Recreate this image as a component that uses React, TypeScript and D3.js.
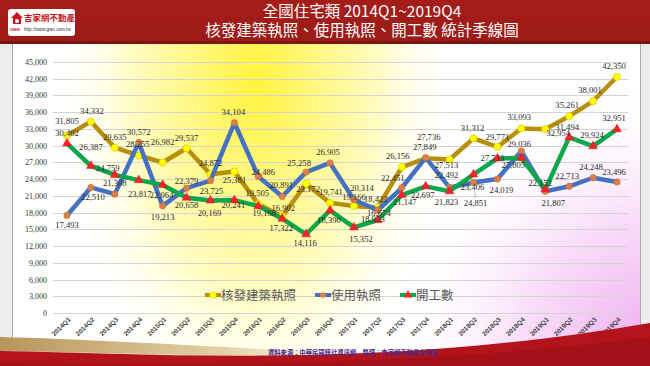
import React from 'react';
import * as d3 from 'd3';

const categories = ['2014Q1','2014Q2','2014Q3','2014Q4','2015Q1','2015Q2','2015Q3','2015Q4','2016Q1','2016Q2','2016Q3','2016Q4','2017Q1','2017Q2','2017Q3','2017Q4','2018Q1','2018Q2','2018Q3','2018Q4','2019Q1','2019Q2','2019Q3','2019Q4'];
const buildingPermits = [31805,34332,29635,28255,26982,29537,24872,25381,19505,17322,23172,19741,19166,18923,26156,27736,27513,31312,29771,33093,32954,35261,38001,42350];
const usePermits = [17493,22510,21308,30572,19213,22379,23725,34104,24486,20891,25258,26905,20314,18422,22451,27849,22492,23406,24019,29036,21807,22713,24248,23496];
const constructionStarts = [30402,26387,24759,23817,22964,20658,20169,20241,19168,16902,14116,18390,15352,16674,21147,22697,21823,24851,27713,27805,22152,31494,29924,32951];
const yTicks = d3.range(0, 45001, 3000);
const seriesNames = ['核發建築執照', '使用執照', '開工數'];

// label placement (dx, dy) per point — presentation only
const goldOff = [[0,-11.5],[1,-7.5],[0,-7.7],[-1,-8.4],[0,-17.8],[0,-7.2],[0,-8.3],[0,11.6],[-1,-8.5],[-1,14.6],[2,8.3],[1,-8.2],[0,-6.3],[-5,14.6],[-4,-8.4],[3,-18.3],[-3,8.5],[-1,-7.3],[0,-7],[-2,-8.4],[13,6.8],[-2,-8.3],[-3,-8],[-3,-8.1]];
const blueOff = [[0,12.6],[2,12.6],[0,-8.1],[0,-7.5],[0,14.2],[0,-4.2],[1,13],[-1,-8.1],[5,-1.7],[-1,-8.5],[-7,-6.1],[-2,-8.2],[8,-8.7],[-2,-7.9],[-9,-6.8],[-1,-8],[-3,-9.5],[-1,7.6],[4,14],[-2,-4],[8,14.6],[-2,-7.3],[-2,-7.7],[-3,-7.2]];
const greenOff = [[0,-7.7],[0,-16.1],[-7,-3.9],[1,16.8],[-1,13.1],[0,10.2],[-1,15.2],[-1,7.9],[6,10.2],[1,-7.4],[-1,11.4],[-1,12.6],[7,14.9],[1,-4],[3,9.7],[-3,11.6],[-3,13.4],[2,31.6],[-5,2.9],[-8,10.1],[-5,-3.4],[-2,-7.3],[-1,-8.1],[-3,-7.9]];

const W = 650, H = 366;
const x = d3.scalePoint<string>().domain(categories).range([67, 617]);
const y = d3.scaleLinear().domain([0, 45000]).range([313, 62]);
const fmt = d3.format(',');

const GOLD = '#b88f0c';
const BLUE = '#4571c4';
const GREEN = '#0ca64b';

const serif = '"Liberation Serif", "DejaVu Serif", serif';
const cjk = '"Noto Sans CJK TC", "Noto Sans CJK SC", sans-serif';

function Series({ data, color, marker }: { data: number[]; color: string; marker: 'circle' | 'dot' | 'tri' }) {
  const line = d3.line<number>().x((_, i) => x(categories[i])!).y(d => y(d));
  const sym = d3.symbol().type(d3.symbolTriangle).size(34);
  return (
    <g>
      <path d={line(data)!} fill="none" stroke={color} strokeWidth={4.5} strokeLinejoin="round" strokeLinecap="round" />
      {data.map((d, i) => {
        const cx = x(categories[i])!, cy = y(d);
        if (marker === 'circle') return <circle key={i} cx={cx} cy={cy} r={3.6} fill="#ffff00" stroke="#d8c400" strokeWidth={0.6} />;
        if (marker === 'dot') return <circle key={i} cx={cx} cy={cy} r={3.2} fill="#d9804a" stroke="#c06a38" strokeWidth={0.5} />;
        return <path key={i} d={sym()!} transform={`translate(${cx},${cy})`} fill="#ff1f2a" stroke="#e0101a" strokeWidth={0.4} />;
      })}
    </g>
  );
}

function Labels({ data, off }: { data: number[]; off: number[][] }) {
  return (
    <g fontFamily={serif} fontSize={8.6} fill="#2a2a2a" textAnchor="middle">
      {data.map((d, i) => (
        <text key={i} x={x(categories[i])! + off[i][0]} y={y(d) + off[i][1]}>{fmt(d)}</text>
      ))}
    </g>
  );
}

export default function App() {
  const legendItems = [
    { name: seriesNames[0], color: GOLD, marker: 'circle', lx: 205, tx: 221 },
    { name: seriesNames[1], color: BLUE, marker: 'dot', lx: 315, tx: 331 },
    { name: seriesNames[2], color: GREEN, marker: 'tri', lx: 400, tx: 416 },
  ];
  const tri = d3.symbol().type(d3.symbolTriangle).size(30)()!;
  return (
    <svg width={W} height={H} style={{ position: 'absolute', left: 0, top: 0, display: 'block' }}>
      <defs>
        <radialGradient id="yel" cx="255" cy="80" r="270" gradientUnits="userSpaceOnUse" gradientTransform="translate(255 80) scale(0.75 1.3) translate(-255 -80)">
          <stop offset="0" stopColor="#fff23c" />
          <stop offset="0.3" stopColor="#fff780" />
          <stop offset="0.62" stopColor="#fffcc4" />
          <stop offset="1" stopColor="#ffffff" stopOpacity="0" />
        </radialGradient>
        <radialGradient id="pink" cx="660" cy="350" r="270" gradientUnits="userSpaceOnUse">
          <stop offset="0" stopColor="#eeaaee" />
          <stop offset="0.5" stopColor="#f7d6f7" stopOpacity="0.85" />
          <stop offset="1" stopColor="#ffffff" stopOpacity="0" />
        </radialGradient>
        <linearGradient id="hdr" x1="0" y1="0" x2="0" y2="1">
          <stop offset="0" stopColor="#a51d19" />
          <stop offset="1" stopColor="#9c1b17" />
        </linearGradient>
        <linearGradient id="goldband" x1="0" y1="0" x2="1" y2="0">
          <stop offset="0" stopColor="#b8955a" />
          <stop offset="0.5" stopColor="#e3cfa4" />
          <stop offset="1" stopColor="#ffffff" stopOpacity="0" />
        </linearGradient>
      </defs>

      {/* page background */}
      <rect x={0} y={0} width={W} height={H} fill="#ececec" />
      <rect x={12} y={44} width={629} height={316} fill="#ffffff" />
      <rect x={12} y={44} width={629} height={316} fill="url(#pink)" />
      <rect x={12} y={44} width={629} height={316} fill="url(#yel)" />
      <line x1={12.5} y1={44} x2={12.5} y2={350} stroke="#a8a8a8" strokeWidth={1} />
      <line x1={640.5} y1={44} x2={640.5} y2={330} stroke="#b8a8b8" strokeWidth={1} />

      {/* header */}
      <rect x={0} y={0} width={W} height={42} fill="url(#hdr)" />
      <rect x={0} y={41} width={W} height={3} fill="#7e1512" />
      <rect x={8} y={9} width={67} height={27} rx={3} fill="#ffffff" />
      <path d="M17,12 L23,18 L21,18 L21,24 L13,24 L13,18 L11,18 Z" fill="#c8161d" />
      <circle cx={17} cy={21} r={2} fill="#ffffff" />
      <text x={24} y={21} fontFamily={cjk} fontSize={8.5} fontWeight={700} fill="#c8161d">吉家網不動產</text>
      <text x={10} y={31} fontFamily="Liberation Sans, sans-serif" fontSize={4} fontWeight={700} fill="#c8161d">GWN</text>
      <text x={24} y={31} fontFamily="Liberation Sans, sans-serif" fontSize={4.6} fill="#333">http://www.gwn.com.tw</text>
      <text x={362} y={16.5} textAnchor="middle" fontFamily={cjk} fontSize={15.5} fill="#ffffff">全國住宅類 2014Q1~2019Q4</text>
      <text x={362} y={35.5} textAnchor="middle" fontFamily={cjk} fontSize={15.5} fill="#ffffff">核發建築執照、使用執照、開工數 統計季線圖</text>

      {/* grid */}
      <g>
        {yTicks.map(t => (
          <line key={t} x1={53} x2={628} y1={Math.round(y(t)) + 0.5} y2={Math.round(y(t)) + 0.5} stroke="#d4d4d4" strokeWidth={1} />
        ))}
      </g>
      <g fontFamily={serif} fontSize={8} fill="#333" textAnchor="end">
        {yTicks.map(t => (
          <text key={t} x={47} y={y(t) + 3}>{fmt(t)}</text>
        ))}
      </g>

      {/* x labels */}
      <g fontFamily='"Liberation Sans", Arial, sans-serif' fontSize={6.6} fontWeight={700} fill="#454545" textAnchor="end">
        {categories.map(c => (
          <text key={c} transform={`translate(${x(c)! + 4},${320}) rotate(-45)`}>{c}</text>
        ))}
      </g>

      {/* series */}
      <Series data={buildingPermits} color={GOLD} marker="circle" />
      <Series data={usePermits} color={BLUE} marker="dot" />
      <Series data={constructionStarts} color={GREEN} marker="tri" />

      {/* leader lines */}
      <line x1={x(categories[17])! + 1} y1={y(usePermits[17]) + 8} x2={x(categories[17])! + 2} y2={y(constructionStarts[17]) + 24} stroke="#999" strokeWidth={0.6} />
      <line x1={x(categories[20])! + 1} y1={y(buildingPermits[20]) + 1} x2={x(categories[20])! + 5} y2={y(buildingPermits[20]) + 4} stroke="#999" strokeWidth={0.6} />

      <Labels data={buildingPermits} off={goldOff} />
      <Labels data={usePermits} off={blueOff} />
      <Labels data={constructionStarts} off={greenOff} />

      {/* legend */}
      <g>
        {legendItems.map(it => (
          <g key={it.name}>
            <line x1={it.lx} x2={it.lx + 16} y1={295} y2={295} stroke={it.color} strokeWidth={4} />
            {it.marker === 'circle' && <circle cx={it.lx + 8} cy={295} r={3.3} fill="#ffff00" stroke="#d8c400" strokeWidth={0.5} />}
            {it.marker === 'dot' && <circle cx={it.lx + 8} cy={295} r={2.8} fill="#d9804a" />}
            {it.marker === 'tri' && <path d={tri} transform={`translate(${it.lx + 8},295)`} fill="#ff1f2a" />}
            <text x={it.tx} y={299.5} fontFamily={cjk} fontSize={12.5} fill="#595959">{it.name}</text>
          </g>
        ))}
      </g>

      {/* bottom swoosh */}
      <path d="M0,337 C120,340 260,350 440,358 L440,361 C260,357 120,353 0,351 Z" fill="url(#goldband)" />
      <path d="M0,351 C170,354 380,369 650,323 L650,366 L0,366 Z" fill="#b3141c" />
      <path d="M0,363 C200,365 420,367 650,337 L650,366 L0,366 Z" fill="#9a0f16" opacity={0.6} />
      <text x={353} y={355} textAnchor="middle" fontFamily={cjk} fontSize={6.3} fontWeight={700} fill="#4d2a8a">資料來源：中華民國統計資訊網　整理：吉家網不動產企研室</text>
    </svg>
  );
}
